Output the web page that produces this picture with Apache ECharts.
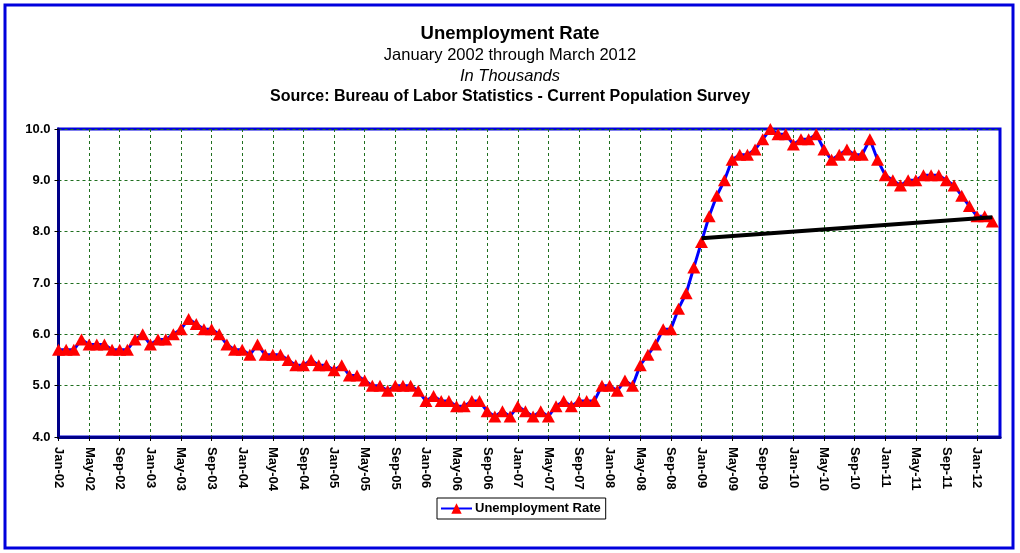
<!DOCTYPE html>
<html>
<head>
<meta charset="utf-8">
<script src="https://cdn.jsdelivr.net/npm/echarts@6/dist/echarts.min.js"></script>
<style>
  html, body { margin: 0; padding: 0; background: #fff; }
  #main { width: 1020px; height: 553px; }
</style>
</head>
<body>
<div id="main"></div>
<script>
// monthly unemployment rate, Jan 2002 - Mar 2012
var rate2002 = [5.7, 5.7, 5.7, 5.9, 5.8, 5.8, 5.8, 5.7, 5.7, 5.7, 5.9, 6.0];
var rate2003 = [5.8, 5.9, 5.9, 6.0, 6.1, 6.3, 6.2, 6.1, 6.1, 6.0, 5.8, 5.7];
var rate2004 = [5.7, 5.6, 5.8, 5.6, 5.6, 5.6, 5.5, 5.4, 5.4, 5.5, 5.4, 5.4];
var rate2005 = [5.3, 5.4, 5.2, 5.2, 5.1, 5.0, 5.0, 4.9, 5.0, 5.0, 5.0, 4.9];
var rate2006 = [4.7, 4.8, 4.7, 4.7, 4.6, 4.6, 4.7, 4.7, 4.5, 4.4, 4.5, 4.4];
var rate2007 = [4.6, 4.5, 4.4, 4.5, 4.4, 4.6, 4.7, 4.6, 4.7, 4.7, 4.7, 5.0];
var rate2008 = [5.0, 4.9, 5.1, 5.0, 5.4, 5.6, 5.8, 6.1, 6.1, 6.5, 6.8, 7.3];
var rate2009 = [7.8, 8.3, 8.7, 9.0, 9.4, 9.5, 9.5, 9.6, 9.8, 10.0, 9.9, 9.9];
var rate2010 = [9.7, 9.8, 9.8, 9.9, 9.6, 9.4, 9.5, 9.6, 9.5, 9.5, 9.8, 9.4];
var rate2011 = [9.1, 9.0, 8.9, 9.0, 9.0, 9.1, 9.1, 9.1, 9.0, 8.9, 8.7, 8.5];
var rate2012 = [8.3, 8.3, 8.2];

// black line from Jan-09 to Mar-12
var trendFrom = 'Jan-09';
var trendTo = 'Mar-12';
var trendValues = [7.87, 8.28];

var monthNames = ['Jan', 'Feb', 'Mar', 'Apr', 'May', 'Jun', 'Jul', 'Aug', 'Sep', 'Oct', 'Nov', 'Dec'];
var years = ['02', '03', '04', '05', '06', '07', '08', '09', '10', '11', '12'];

var rates = [].concat(rate2002, rate2003, rate2004, rate2005, rate2006, rate2007,
  rate2008, rate2009, rate2010, rate2011, rate2012);

var categories = [];
years.forEach(function (y) {
  monthNames.forEach(function (m) { categories.push(m + '-' + y); });
});
// axis runs one month past the last point (Apr-12)
categories = categories.slice(0, rates.length + 1);

var trend = categories.map(function () { return null; });
trend[categories.indexOf(trendFrom)] = trendValues[0];
trend[categories.indexOf(trendTo)] = trendValues[1];

var FONT = "'Liberation Sans', Arial, sans-serif";
var myChart = echarts.init(document.getElementById('main'));
var option = {
  backgroundColor: '#fff',
  animation: false,
  title: [
    { text: 'Unemployment Rate', left: 'center', top: 24, padding: 0,
      textStyle: { fontFamily: FONT, fontSize: 18.5, fontWeight: 'bold', color: '#000' } },
    { text: 'January 2002 through March 2012', left: 'center', top: 47, padding: 0,
      textStyle: { fontFamily: FONT, fontSize: 16.5, fontWeight: 'normal', color: '#000' } },
    { text: 'In Thousands', left: 'center', top: 68, padding: 0,
      textStyle: { fontFamily: FONT, fontSize: 16.5, fontWeight: 'normal', fontStyle: 'italic', color: '#000' } },
    { text: 'Source: Bureau of Labor Statistics - Current Population Survey', left: 'center', top: 89, padding: 0,
      textStyle: { fontFamily: FONT, fontSize: 16, fontWeight: 'bold', color: '#000' } }
  ],
  graphic: [{
    type: 'rect',
    shape: { x: 5, y: 5, width: 1008, height: 543 },
    style: { fill: null, stroke: '#0000dd', lineWidth: 3 },
    silent: true
  }],
  legend: {
    data: ['Unemployment Rate'],
    left: 437, top: 498,
    padding: [4, 5, 4, 3],
    borderColor: '#000', borderWidth: 1,
    itemWidth: 31, itemHeight: 13,
    itemGap: 4,
    textStyle: { fontFamily: FONT, fontSize: 13, fontWeight: 'bold', color: '#000', padding: [0, 0, 0, -2] }
  },
  grid: {
    left: 58.5, right: 20, top: 129, bottom: 116,
    show: true, borderColor: '#0000dd', borderWidth: 3
  },
  xAxis: {
    type: 'category',
    boundaryGap: false,
    data: categories,
    axisLine: { lineStyle: { color: '#000088', width: 3 } },
    axisTick: { show: true, interval: 3, length: 4, lineStyle: { color: '#000', width: 1 } },
    axisLabel: {
      interval: 3, rotate: -90, margin: 10,
      fontFamily: FONT, fontSize: 13, fontWeight: 'bold', color: '#000'
    },
    splitLine: { show: true, interval: 3, lineStyle: { color: '#1f6f1f', type: [3, 3], width: 1 } }
  },
  yAxis: {
    type: 'value',
    min: 4, max: 10, interval: 1,
    axisLine: { show: true, lineStyle: { color: '#000088', width: 3 } },
    axisTick: { show: true, length: 4, lineStyle: { color: '#000', width: 1 } },
    axisLabel: {
      margin: 8,
      formatter: function (v) { return v.toFixed(1); },
      fontFamily: FONT, fontSize: 13, fontWeight: 'bold', color: '#000'
    },
    splitLine: { show: true, lineStyle: { color: '#1f6f1f', type: [3, 3], width: 1 } }
  },
  series: [
    {
      name: 'Unemployment Rate',
      type: 'line',
      data: rates,
      symbol: 'triangle',
      symbolSize: [13, 12],
      showAllSymbol: true,
      lineStyle: { color: '#0000ff', width: 3 },
      itemStyle: { color: '#ff0000', borderWidth: 0 },
      z: 3
    },
    {
      name: 'trend',
      type: 'line',
      data: trend,
      connectNulls: true,
      showSymbol: false,
      symbol: 'none',
      lineStyle: { color: '#000', width: 4 },
      itemStyle: { color: '#000' },
      z: 4
    }
  ]
};
myChart.setOption(option);
</script>
</body>
</html>
